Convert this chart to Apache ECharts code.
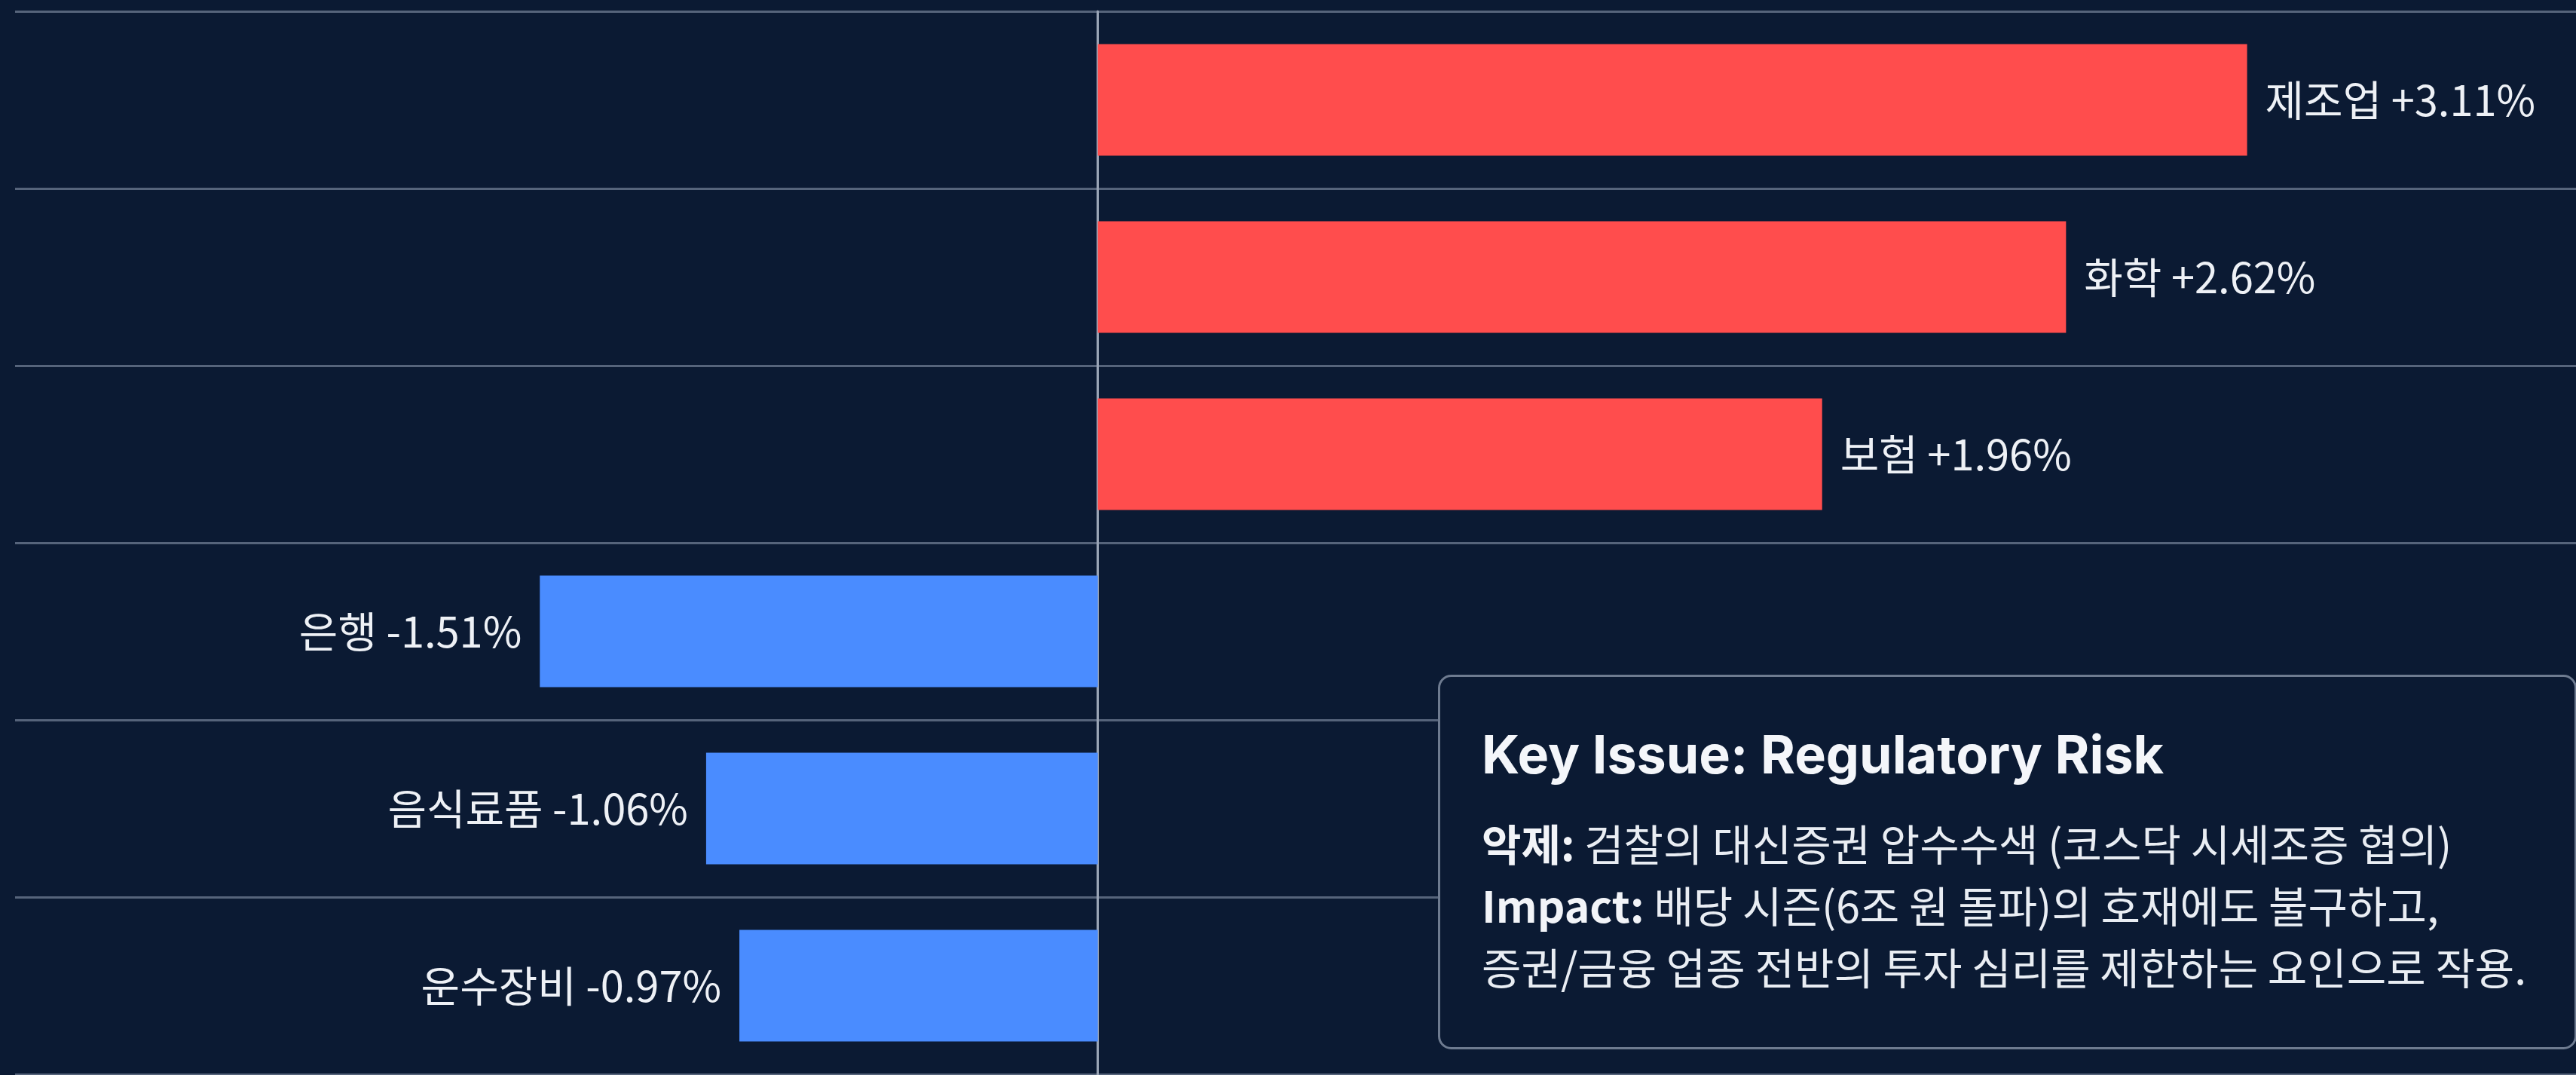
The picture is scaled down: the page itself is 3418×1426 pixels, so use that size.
<!DOCTYPE html>
<html>
<head>
<meta charset="utf-8">
<script src="https://cdn.jsdelivr.net/npm/echarts@6/dist/echarts.min.js"></script>
<style>
  html, body { margin: 0; padding: 0; background: #0b1a33; }
  #chart { width: 3418px; height: 1426px; }
</style>
</head>
<body>
<div id="chart"></div>
<script>
// 업종별 등락률 (위에서 아래 순서)
const sectors = ["제조업", "화학", "보험", "은행", "음식료품", "운수장비"];
const changes = [3.11, 2.62, 1.96, -1.51, -1.06, -0.97];

// 오른쪽 박스 문구
const noteTitle = "Key Issue: Regulatory Risk";
const noteLines = [
  ["악제:", " 검찰의 대신증권 압수수색 (코스닥 시세조증 협의)"],
  ["Impact:", " 배당 시즌(6조 원 돌파)의 호재에도 불구하고,"],
  ["", "증권/금융 업종 전반의 투자 심리를 제한하는 요인으로 작용."]
];

const BG = "#0b1a33";
const UP = "#ff4d4d";
const DOWN = "#4a8cff";
const FONT = "'Noto Sans CJK KR', 'Noto Sans', sans-serif";

const chart = echarts.init(document.getElementById("chart"));

// 막대 데이터 - 부호에 따라 색과 라벨 위치를 바꾼다
const barData = changes.map((v) => {
  const up = v >= 0;
  return {
    value: v,
    itemStyle: { color: up ? UP : DOWN },
    label: { position: up ? "right" : "left" }
  };
});

// 박스 안 텍스트
const noteTexts = noteLines.map((line, i) => {
  return {
    type: "text",
    left: 1966,
    top: 1092 + i * 82,
    style: {
      text: (line[0] ? "{b|" + line[0] + "}" : "") + "{n|" + line[1] + "}",
      rich: {
        b: { fontSize: 57, fontWeight: "bold", fontFamily: FONT, fill: "#f2f4f8" },
        n: { fontSize: 57, fontFamily: FONT, fill: "#e9edf3" }
      }
    },
    z: 110
  };
});

const option = {
  backgroundColor: BG,
  animation: false,
  grid: {
    left: 20,
    right: 0,
    top: 15,
    bottom: 1
  },
  xAxis: {
    type: "value",
    min: -2.93,
    max: 4.0,
    axisLine: { show: false },
    axisTick: { show: false },
    axisLabel: { show: false },
    splitLine: { show: false }
  },
  yAxis: {
    type: "category",
    inverse: true,
    data: sectors,
    axisLine: {
      show: true,
      onZero: true,
      lineStyle: { color: "#9aa5b6", width: 3 }
    },
    axisTick: { show: false },
    axisLabel: { show: false },
    splitLine: {
      show: true,
      lineStyle: { color: "#56647b", width: 3 }
    }
  },
  series: [
    {
      type: "bar",
      data: barData,
      barCategoryGap: "37%",
      label: {
        show: true,
        distance: 24,
        color: "#eef1f6",
        fontSize: 56,
        fontFamily: FONT,
        formatter: (p) => {
          const sign = p.value > 0 ? "+" : "";
          return p.name + " " + sign + p.value.toFixed(2) + "%";
        }
      }
    }
  ],
  graphic: [
    {
      type: "rect",
      left: 1908,
      top: 895,
      shape: { width: 1508, height: 494, r: 16 },
      style: { fill: BG, stroke: "#6e7b90", lineWidth: 3 },
      z: 100
    },
    {
      type: "text",
      left: 1966,
      top: 970,
      style: {
        text: noteTitle,
        fontSize: 70,
        fontWeight: "bold",
        fontFamily: "Inter, 'Noto Sans', sans-serif",
        fill: "#f4f6fa"
      },
      z: 110
    }
  ].concat(noteTexts)
};

chart.setOption(option);
</script>
</body>
</html>
